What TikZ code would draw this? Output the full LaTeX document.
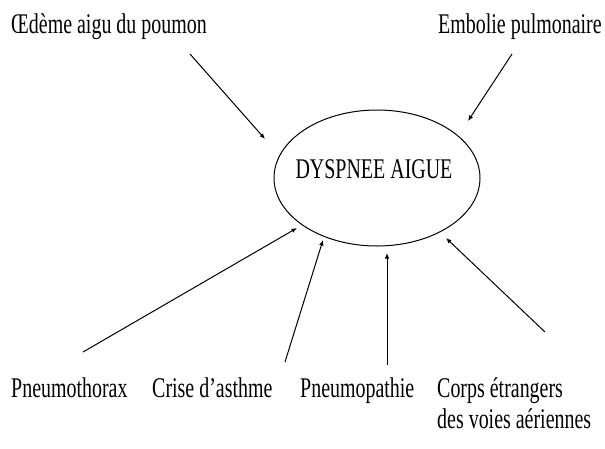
\documentclass[tikz,border=0pt]{standalone}
\usepackage{fontspec}
\newfontfamily\condserif[FakeStretch=0.70]{Liberation Serif}
\usetikzlibrary{shapes.geometric,arrows.meta}
\begin{document}
\begin{tikzpicture}[x=1pt,y=-1pt,
  lbl/.style={inner sep=0pt,anchor=base west,font=\condserif\fontsize{28.5}{31}\selectfont,align=left},
  arr/.style={draw=black,line width=1pt,-{Latex[length=5.5pt,width=4.5pt]}},
  ell/.style={draw=black,line width=1pt,ellipse,inner sep=0pt,minimum width=206pt,minimum height=136pt}]
\useasboundingbox[fill=white] (0,0) rectangle (605,448);
% central ellipse
\node[ell] (e) at (377,178) {};
\node[lbl,anchor=base] (title) at (374,178) {DYSPNEE AIGUE};
% labels
\node[lbl] (oap) at (11,33) {Œdème aigu du poumon};
\node[lbl] (ep) at (438,33) {Embolie pulmonaire};
\node[lbl] (px) at (11,397) {Pneumothorax};
\node[lbl] (ca) at (152,397) {Crise d’asthme};
\node[lbl] (pp) at (300,397) {Pneumopathie};
\node[lbl] (ce) at (437,428) {Corps étrangers\\des voies aériennes};
% arrow end points
\coordinate (s1) at (190,54);  \coordinate (t1) at (265,139);
\coordinate (s2) at (512,54);  \coordinate (t2) at (468,121);
\coordinate (s3) at (83,352);  \coordinate (t3) at (297,228);
\coordinate (s4) at (285,362); \coordinate (t4) at (323,240);
\coordinate (s5) at (387,365); \coordinate (t5) at (387,253);
\coordinate (s6) at (545,332); \coordinate (t6) at (446,238);
\draw[arr] (s1) -- (t1);
\draw[arr] (s2) -- (t2);
\draw[arr] (s3) -- (t3);
\draw[arr] (s4) -- (t4);
\draw[arr] (s5) -- (t5);
\draw[arr] (s6) -- (t6);
\end{tikzpicture}
\end{document}
